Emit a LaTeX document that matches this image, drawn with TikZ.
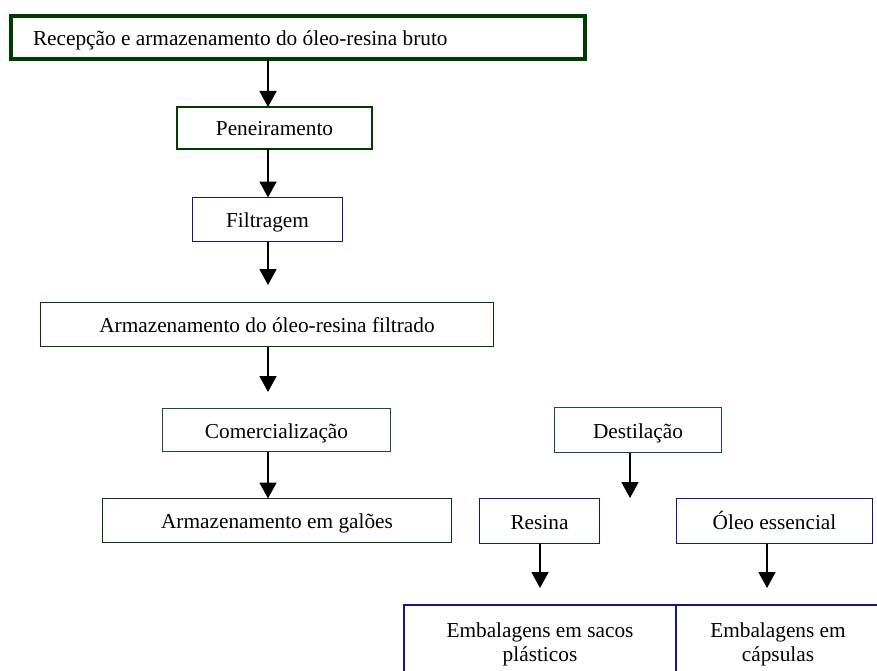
\documentclass[tikz,border=0pt]{standalone}
\usepackage{fontspec}
\setmainfont{Liberation Serif}
\usetikzlibrary{arrows.meta}

\definecolor{boxgreen}{RGB}{0,60,0}
\definecolor{boxnavy}{RGB}{20,20,140}
\definecolor{boxsteel}{RGB}{25,65,115}

\begin{document}
\begin{tikzpicture}[x=1pt, y=-1pt,
		box/.style={draw, line width=1.8pt, fill=white, inner sep=0pt, outer sep=0pt,
				font=\fontsize{21.3}{24}\selectfont, align=center},
		oneline/.style={text height=18pt, text depth=2pt},
		greenbox/.style={box, oneline, draw=boxgreen},
		navybox/.style={box, oneline, draw=boxnavy},
		steelbox/.style={box, oneline, draw=boxsteel},
		packbox/.style={box, draw=boxnavy},
		flow/.style={line width=1.8pt, -{Triangle[width=17pt, length=16pt]}}]
			\def\axis{268}

			% Page
			\useasboundingbox (0, 0) rectangle (877, 671);
			\clip (0, 0) rectangle (877, 671);

			% Left column
			\node[greenbox, line width=4pt, minimum width=574, minimum height=43,
				text width=530, align=flush left] (recep) at (298, 37.5)
				{Recepção e armazenamento do óleo-resina bruto};
			\node[greenbox, minimum width=195, minimum height=42] (peneira) at (274.5, 128) {Peneiramento};
			\node[navybox, minimum width=150, minimum height=44] (filtra) at (267.5, 219.5) {Filtragem};
			\node[greenbox, minimum width=453, minimum height=44] (armfilt) at (267, 324.5)
				{Armazenamento do óleo-resina filtrado};
			\node[steelbox, minimum width=228, minimum height=43] (comerc) at (276.5, 430) {Comercialização};
			\node[greenbox, minimum width=349, minimum height=44] (galoes) at (277, 520.5) {Armazenamento em galões};

			% Right side
			\node[steelbox, minimum width=167, minimum height=45] (destil) at (638, 430) {Destilação};
			\node[navybox, minimum width=120, minimum height=45] (resina) at (539.5, 521) {Resina};
			\node[navybox, minimum width=196, minimum height=45] (oleo) at (774.5, 521) {Óleo essencial};
			\node[packbox, minimum width=272, minimum height=78] (sacos) at (540, 644)
				{Embalagens em sacos\\plásticos};
			\node[packbox, minimum width=204, minimum height=78] (capsul) at (778, 644)
				{Embalagens em\\cápsulas};

			% Free arrow ends
			\coordinate (armin) at (\axis, 285);
			\coordinate (comin) at (\axis, 392);
			\coordinate (destout) at (630, 498);
			\coordinate (resout) at (540, 588);
			\coordinate (oleout) at (767, 588);

			% Arrows
			\draw[flow] (recep.south -| armin) -- (peneira.north -| armin);
			\draw[flow] (peneira.south -| armin) -- (filtra.north -| armin);
			\draw[flow] (filtra.south -| armin) -- (armin);
			\draw[flow] (armfilt.south -| comin) -- (comin);
			\draw[flow] (comerc.south -| comin) -- (galoes.north -| comin);
			\draw[flow] (destil.south -| destout) -- (destout);
			\draw[flow] (resina.south -| resout) -- (resout);
			\draw[flow] (oleo.south -| oleout) -- (oleout);

		\end{tikzpicture}
\end{document}
